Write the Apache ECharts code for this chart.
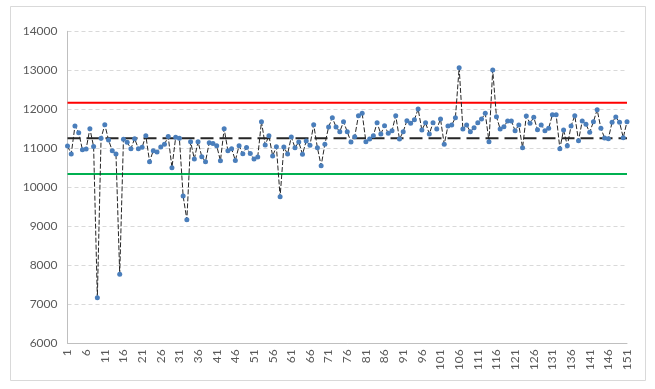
<!DOCTYPE html>
<html>
<head>
<meta charset="utf-8">
<script src="https://cdn.jsdelivr.net/npm/echarts@6/dist/echarts.min.js"></script>
<style>
html,body{margin:0;padding:0;background:#fff;}
#chart{width:655px;height:389px;}
</style>
</head>
<body>
<div id="chart"></div>
<script>
// ---- data ----
const categories = [];
for (let i = 1; i <= 151; i++) categories.push(String(i));

const values = [
  11060, 10855, 11573, 11400, 10966, 10983, 11504, 11043, 7170, 11257,
  11607, 11214, 10940, 10855, 7770, 11231, 11154, 10991, 11248, 10991,
  11026, 11325, 10658, 10940, 10906, 11034, 11103, 11300, 10504, 11282,
  11257, 9777, 9169, 11170, 10726, 11170, 10785, 10657, 11144, 11120,
  11065, 10680, 11500, 10940, 10990, 10687, 11068, 10860, 11020, 10866,
  10726, 10777, 11683, 11085, 11324, 10803, 11042, 9759, 11033, 10854,
  11290, 11016, 11162, 10845, 11187, 11076, 11606, 11016, 10555, 11102,
  11546, 11785, 11546, 11426, 11683, 11426, 11160, 11298, 11837, 11897,
  11170, 11238, 11324, 11657, 11367, 11580, 11384, 11452, 11837, 11238,
  11426, 11709, 11640, 11734, 12008, 11469, 11657, 11367, 11657, 11495,
  11751, 11102, 11572, 11597, 11785, 13067, 11495, 11597, 11426, 11529,
  11657, 11751, 11897, 11170, 13007, 11811, 11495, 11555, 11700, 11700,
  11452, 11597, 11016, 11828, 11640, 11794, 11478, 11597, 11452, 11512,
  11862, 11862, 10991, 11469, 11067, 11572, 11837, 11196, 11700, 11614,
  11409, 11683, 11990, 11512, 11264, 11247, 11666, 11802, 11666, 11273,
  11683
];

const upperLimit = 12170;
const centerLine = 11255;
const lowerLimit = 10340;

const yTicks = { min: 6000, max: 14000, step: 1000 };

// ---- chart ----
const chart = echarts.init(document.getElementById('chart'), null, { renderer: 'canvas' });
const flat = v => categories.map(() => v);
const font = 'Lato, "Liberation Sans", sans-serif';

chart.setOption({
  animation: false,
  backgroundColor: '#ffffff',
  graphic: [{
    type: 'rect',
    shape: { x: 10.5, y: 6.5, width: 635, height: 374 },
    style: { fill: 'none', stroke: '#d9d9d9', lineWidth: 1 },
    silent: true
  }],
  grid: { left: 67.5, right: 28, top: 31.3, bottom: 45.7, containLabel: false },
  xAxis: {
    type: 'category',
    data: categories,
    boundaryGap: false,
    axisLine: { lineStyle: { color: '#bfbfbf', width: 1 } },
    axisTick: { show: false },
    axisLabel: {
      interval: 4,
      rotate: 90,
      color: '#595959',
      fontSize: 12,
      fontFamily: font,
      margin: 6
    },
    splitLine: { show: false }
  },
  yAxis: {
    type: 'value',
    min: yTicks.min,
    max: yTicks.max,
    interval: yTicks.step,
    axisLine: { show: true, lineStyle: { color: '#bfbfbf', width: 1 } },
    axisTick: { show: false },
    axisLabel: {
      color: '#595959', fontSize: 12, fontFamily: font, margin: 10,
      formatter: v => String(v)
    },
    splitLine: { show: true, lineStyle: { color: '#d9d9d9', type: [4, 3], width: 1 } }
  },
  series: [
    {
      name: 'UCL', type: 'line', data: flat(upperLimit), symbol: 'none',
      lineStyle: { color: '#ff0000', width: 2 }, z: 2
    },
    {
      name: 'LCL', type: 'line', data: flat(lowerLimit), symbol: 'none',
      lineStyle: { color: '#00b050', width: 2 }, z: 2
    },
    {
      name: 'Mean', type: 'line', data: flat(centerLine), symbol: 'none',
      lineStyle: { color: '#262626', width: 2, type: [13, 6] }, z: 3
    },
    {
      name: 'Value', type: 'line', data: values,
      symbol: 'circle', symbolSize: 5, showSymbol: true, showAllSymbol: true,
      lineStyle: { color: '#262626', width: 1, type: [5, 2] },
      itemStyle: { color: '#4a7ebb', borderWidth: 0 },
      z: 4
    }
  ]
});
</script>
</body>
</html>
